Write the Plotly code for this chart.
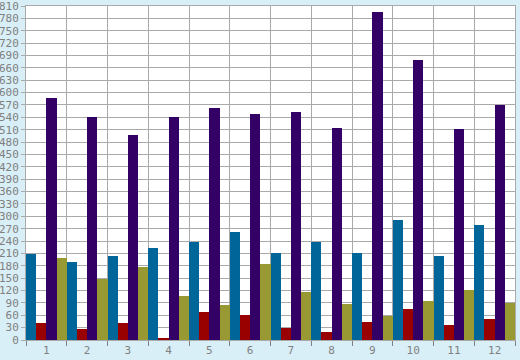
import plotly.graph_objects as go

categories = ["1", "2", "3", "4", "5", "6", "7", "8", "9", "10", "11", "12"]
series_blue = [208, 189, 203, 222, 237, 261, 210, 237, 210, 290, 203, 278]
series_red = [41, 27, 41, 5, 68, 60, 29, 19, 43, 75, 36, 51]
series_purple = [587, 541, 496, 541, 563, 549, 554, 515, 795, 679, 512, 570]
series_olive = [198, 147, 176, 106, 85, 184, 116, 87, 58, 94, 121, 89]
y_ticks = list(range(0, 811, 30))

colors = ["#006699", "#990000", "#330066", "#999933"]
names = ["A", "B", "C", "D"]

fig = go.Figure()
for name, vals, col in zip(names, [series_blue, series_red, series_purple, series_olive], colors):
    fig.add_trace(go.Bar(x=categories, y=vals, name=name, marker=dict(color=col, line=dict(width=0))))

font = dict(family="DejaVu Sans Mono", size=11, color="#808080")
fig.update_layout(
    width=520, height=360,
    margin=dict(l=26, r=5, t=6, b=20, autoexpand=False),
    paper_bgcolor="#d9eff7",
    plot_bgcolor="#ffffff",
    barmode="group", bargap=0, bargroupgap=0,
    showlegend=False,
    font=font,
)
fig.update_xaxes(
    type="category", tickson="boundaries", showgrid=True, gridcolor="#aaaaaa", gridwidth=1,
    ticks="outside", ticklen=5, tickcolor="#808080", tickfont=font, automargin=False,
    showline=True, linecolor="#aaaaaa", mirror=True, ticklabeloverflow="allow",
)
fig.update_yaxes(
    range=[0, 810], tickmode="array", tickvals=y_ticks, ticktext=[str(v) for v in y_ticks],
    showgrid=True, gridcolor="#aaaaaa", gridwidth=1, automargin=False,
    ticks="outside", ticklen=4, tickcolor="#aaaaaa", tickfont=font,
    showline=True, linecolor="#aaaaaa", mirror=True, zeroline=False, ticklabeloverflow="allow",
)
fig.write_html("out.html", config={"displayModeBar": False},
               post_script="document.body.style.margin='0';")
